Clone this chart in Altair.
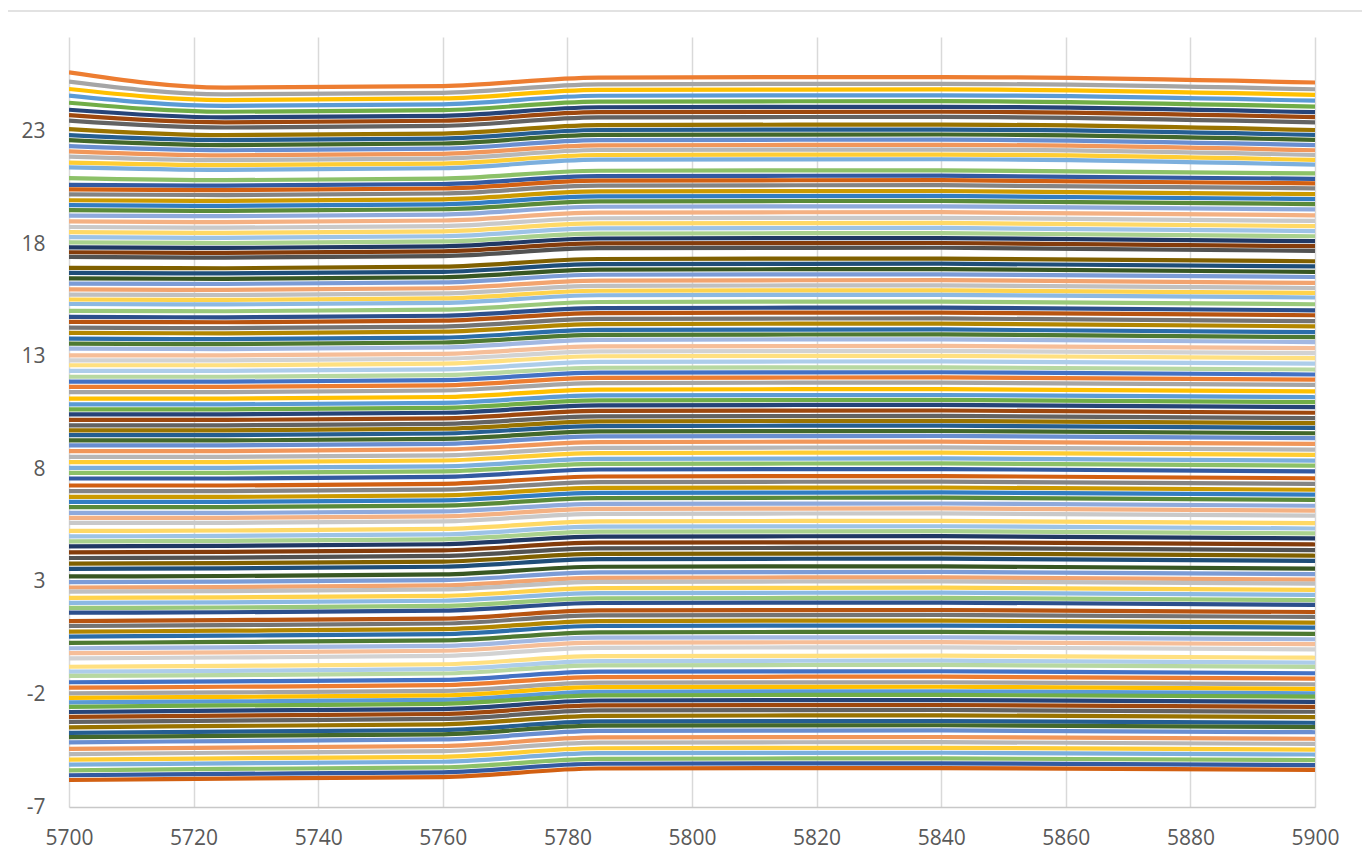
import altair as alt
import pandas as pd
import colorsys

# ---------------- data ----------------
x_points = [5700, 5725, 5760, 5785, 5840, 5900]

# value of each series at x = 5900, top series first
end_5900 = [
    25.18, 24.88, 24.63, 24.37, 24.11, 23.86, 23.64, 23.41, 23.07, 22.85,
    22.63, 22.40, 22.17, 21.96, 21.74, 21.53, 21.14, 20.90, 20.70, 20.48,
    20.22, 20.00, 19.78, 19.54, 19.28, 19.03, 18.80, 18.58, 18.35, 18.13,
    17.91, 17.70, 17.24, 17.01, 16.77, 16.54, 16.28, 16.05, 15.83, 15.63,
    15.33, 15.06, 14.84, 14.58, 14.35, 14.09, 13.87, 13.65, 13.38, 13.16,
    12.94, 12.69, 12.43, 12.21, 11.98, 11.75, 11.46, 11.20, 10.98, 10.76,
    10.51, 10.27, 10.05, 9.84, 9.60, 9.38, 9.13, 8.87, 8.64, 8.38,
    8.16, 7.91, 7.60, 7.35, 7.09, 6.87, 6.64, 6.38, 6.16, 5.94,
    5.61, 5.37, 5.15, 4.93, 4.66, 4.41, 4.16, 3.93, 3.59, 3.34,
    3.10, 2.92, 2.64, 2.42, 2.19, 1.98, 1.66, 1.44, 1.19, 0.97,
    0.69, 0.45, 0.23, 0.00, -0.37, -0.59, -0.78, -1.06, -1.30, -1.55,
    -1.75, -1.95, -2.10, -2.33, -2.55, -2.77, -3.01, -3.26, -3.45, -3.68,
    -3.97, -4.20, -4.45, -4.67, -4.92, -5.14, -5.35,
]

# drop from 5700 to 5725 for the top series (they start higher)
bump_5700_top = [0.68, 0.57, 0.49, 0.46, 0.40, 0.34, 0.32, 0.31, 0.27,
                 0.22, 0.22, 0.18, 0.18, 0.16, 0.11, 0.11, 0.09]
# the same quantity, per band of 16 series, for the rest
bump_5700_band = [0.05, 0.03, 0.02, 0.00, 0.00, -0.02, -0.04, -0.06]
# plateau (5785-5840) above the value at 5900, per band of 16 series
lift_5840_band = [0.24, 0.14, 0.12, 0.10, 0.10, 0.10, 0.09, 0.08]
# rise between 5760 and the plateau, per band of 16 series
step_5760_band = [0.38, 0.35, 0.34, 0.33, 0.33, 0.34, 0.36, 0.38]
dip_5725 = 0.07
shoulder_5785 = 0.02

x_ticks = [5700, 5720, 5740, 5760, 5780, 5800, 5820, 5840, 5860, 5880, 5900]
y_ticks = [-7, -2, 3, 8, 13, 18, 23]

# ---------------- Excel (Office) default series palette ----------------
accents = ["#4472C4", "#ED7D31", "#A5A5A5", "#FFC000", "#5B9BD5", "#70AD47"]
variants = [(1.0, 0.0), (0.6, 0.0), (0.8, 0.2), (0.8, 0.0), (0.6, 0.4),
            (0.5, 0.0), (0.7, 0.3), (0.7, 0.0), (0.5, 0.5)]


def shade(hexc, mod, off):
    r, g, b = [int(hexc[k:k + 2], 16) / 255 for k in (1, 3, 5)]
    h, l, s = colorsys.rgb_to_hls(r, g, b)
    l = min(1.0, l * mod + off)
    r, g, b = colorsys.hls_to_rgb(h, l, s)
    return "#%02X%02X%02X" % tuple(int(round(c * 255)) for c in (r, g, b))


names, colors, rows = [], [], []
for i, e in enumerate(end_5900):
    p = (i + 1) % 54
    mod, off = variants[p // 6]
    names.append(f"Series {i + 2}")
    colors.append(shade(accents[p % 6], mod, off))
    b = i // 16
    bump = bump_5700_top[i] if i < len(bump_5700_top) else bump_5700_band[b]
    v5900 = e
    v5840 = e + lift_5840_band[b]
    v5785 = v5840 - shoulder_5785
    v5760 = v5785 - step_5760_band[b]
    v5725 = v5760 - dip_5725
    v5700 = v5725 + bump
    for x, v in zip(x_points, [v5700, v5725, v5760, v5785, v5840, v5900]):
        rows.append({"series": names[-1], "k": i, "x": x, "y": v})

df = pd.DataFrame(rows)

FONT = "Open Sans"
W, H = 1246, 770

lines = alt.Chart(df).mark_line(
    interpolate="monotone", strokeWidth=4.2, clip=True
).encode(
    x=alt.X("x:Q",
            scale=alt.Scale(domain=[5700, 5900], nice=False, zero=False),
            axis=alt.Axis(values=x_ticks, grid=True, gridColor="#D9D9D9",
                          gridWidth=1.5, domainColor="#C8C8C8", domainWidth=1.5,
                          ticks=False, labelFont=FONT, labelFontSize=21,
                          labelColor="#595959", labelPadding=20, title=None,
                          format="d", labelFlush=False)),
    y=alt.Y("y:Q",
            scale=alt.Scale(domain=[-7, 27.2], nice=False, zero=False),
            axis=alt.Axis(values=y_ticks, grid=False, domain=False, ticks=False,
                          labelFont=FONT, labelFontSize=21, labelColor="#595959",
                          labelPadding=24, title=None,
                          labelExpr="'' + datum.value")),
    color=alt.Color("series:N", scale=alt.Scale(domain=names, range=colors),
                    legend=None),
    order=alt.Order("k:Q"),
)

frame = alt.Chart(pd.DataFrame({"a": [0]})).mark_rect(
    fill=None, stroke="#D9D9D9", strokeWidth=1.5
).encode(
    x=alt.value(-64), x2=alt.value(1297), y=alt.value(-26), y2=alt.value(820)
)

chart = alt.layer(frame, lines).properties(
    width=W, height=H,
    autosize=alt.AutoSizeParams(type="none"),
    padding={"left": 61, "top": 29, "right": 47, "bottom": 45},
).configure_view(stroke=None)

chart.save("out.html", embed_options={"renderer": "svg", "actions": False})
